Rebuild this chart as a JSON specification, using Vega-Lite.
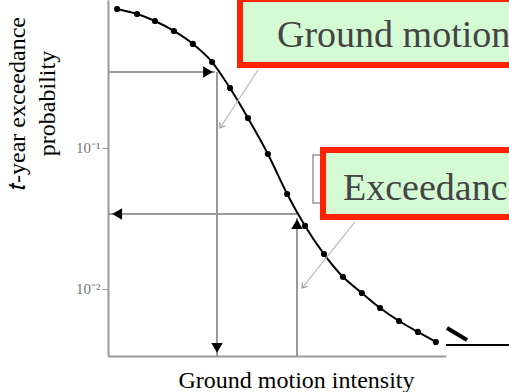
{
  "$schema": "https://vega.github.io/schema/vega-lite/v6.json",
  "width": 338,
  "height": 356,
  "autosize": {"type": "none"},
  "padding": {"left": 108, "top": 0, "right": 63, "bottom": 36},
  "background": "white",
  "config": {"view": {"stroke": null}, "font": "Liberation Serif"},
  "datasets": {
    "curve": [
      {"x": 0.27, "y": 0.968}, {"x": 0.86, "y": 0.892}, {"x": 1.39, "y": 0.796},
      {"x": 1.95, "y": 0.676}, {"x": 2.51, "y": 0.547}, {"x": 3.08, "y": 0.407},
      {"x": 3.61, "y": 0.266}, {"x": 4.14, "y": 0.163}, {"x": 4.73, "y": 0.0907},
      {"x": 5.30, "y": 0.0472}, {"x": 5.83, "y": 0.028}, {"x": 6.39, "y": 0.0177},
      {"x": 6.95, "y": 0.0122}, {"x": 7.51, "y": 0.00937}, {"x": 8.05, "y": 0.00733},
      {"x": 8.61, "y": 0.00593}, {"x": 9.17, "y": 0.00496}, {"x": 9.70, "y": 0.00421}
    ],
    "guides": [
      {"x": 0, "x2": 3.166, "y": 0.346, "y2": 0.346},
      {"x": 3.225, "x2": 3.225, "y": 0.346, "y2": 0.003348},
      {"x": 0, "x2": 5.592, "y": 0.03404, "y2": 0.03404},
      {"x": 5.592, "x2": 5.592, "y": 0.03188, "y2": 0.003348}
    ],
    "heads": [
      {"x": 2.96, "y": 0.346, "dir": "right"},
      {"x": 3.225, "y": 0.00382, "dir": "down"},
      {"x": 0.27, "y": 0.03404, "dir": "left"},
      {"x": 5.592, "y": 0.0289, "dir": "up"}
    ],
    "pointers": [
      {"x": 4.438, "x2": 3.314, "y": 0.3574, "y2": 0.1387},
      {"x": 7.308, "x2": 5.74, "y": 0.02987, "y2": 0.01016}
    ],
    "pointerTip1": [{"x": 3.314, "y": 0.1387}],
    "pointerTip2": [{"x": 5.74, "y": 0.01016}],
    "backBox": [{"x": 6.065, "x2": 6.6, "y": 0.0892, "y2": 0.0407}],
    "boxes": [
      {"x": 3.905, "x2": 15, "y": 1.139, "y2": 0.388},
      {"x": 6.361, "x2": 15, "y": 0.0968, "y2": 0.0324}
    ],
    "boxText": [
      {"x": 5.0, "y": 0.52, "label": "Ground motion"},
      {"x": 6.953, "y": 0.0428, "label": "Exceedance"}
    ],
    "edgeLine": [{"x": 10, "x2": 12, "y": 0.00401, "y2": 0.00401}],
    "edgeStroke": [{"x": 10.03, "x2": 10.62, "y": 0.00529, "y2": 0.004347}]
  },
  "encoding": {
    "x": {
      "field": "x",
      "type": "quantitative",
      "scale": {"domain": [0, 10], "nice": false, "zero": false},
      "axis": {
        "title": "Ground motion intensity",
        "titleFont": "Liberation Serif",
        "titleFontSize": 24,
        "titleFontWeight": "normal",
        "titleColor": "#000000",
        "titleX": 188,
        "titleY": 31,
        "titleAlign": "center",
        "titleBaseline": "alphabetic",
        "labels": false,
        "ticks": false,
        "grid": false,
        "domainColor": "#999999",
        "domainWidth": 2
      }
    },
    "y": {
      "field": "y",
      "type": "quantitative",
      "scale": {"type": "log", "domain": [0.003348, 1.121], "nice": false},
      "axis": {
        "title": ["𝑡-year exceedance", "probability"],
        "titleFont": "Liberation Serif",
        "titleFontSize": 24,
        "titleFontWeight": "normal",
        "titleColor": "#000000",
        "titleAngle": 270,
        "titleX": -84,
        "titleY": 103,
        "titleAlign": "center",
        "titleBaseline": "alphabetic",
        "titleLineHeight": 30,
        "values": [0.1, 0.01],
        "labelExpr": "datum.value > 0.05 ? '10⁻¹' : '10⁻²'",
        "labelFont": "Liberation Serif",
        "labelFontSize": 15,
        "labelColor": "#777777",
        "labelPadding": 2,
        "tickColor": "#999999",
        "tickSize": 6,
        "tickWidth": 1,
        "grid": false,
        "domainColor": "#999999",
        "domainWidth": 2
      }
    }
  },
  "layer": [
    {
      "data": {"name": "backBox"},
      "mark": {"type": "rect", "fill": "#ffffff", "stroke": "#999999", "strokeWidth": 1.5},
      "encoding": {"x2": {"field": "x2"}, "y2": {"field": "y2"}}
    },
    {
      "data": {"name": "guides"},
      "mark": {"type": "rule", "color": "#999999", "strokeWidth": 2},
      "encoding": {"x2": {"field": "x2"}, "y2": {"field": "y2"}}
    },
    {
      "data": {"name": "curve"},
      "mark": {"type": "line", "color": "#000000", "strokeWidth": 2, "interpolate": "monotone"},
      "encoding": {}
    },
    {
      "data": {"name": "curve"},
      "mark": {"type": "circle", "color": "#000000", "size": 38, "opacity": 1}
    },
    {
      "data": {"name": "heads"},
      "mark": {"type": "point", "filled": true, "color": "#000000", "size": 130, "opacity": 1},
      "encoding": {
        "shape": {
          "field": "dir",
          "type": "nominal",
          "scale": {"domain": ["right", "down", "left", "up"], "range": ["triangle-right", "triangle-down", "triangle-left", "triangle-up"]},
          "legend": null
        }
      }
    },
    {
      "data": {"name": "pointers"},
      "mark": {"type": "rule", "color": "#b8b8b8", "strokeWidth": 1.2},
      "encoding": {"x2": {"field": "x2"}, "y2": {"field": "y2"}}
    },
    {
      "data": {"name": "pointerTip1"},
      "mark": {"type": "point", "shape": "M-1,-0.7L0,0L-1,0.7", "filled": false, "stroke": "#999999", "strokeWidth": 1.2, "size": 90, "angle": 123, "opacity": 1}
    },
    {
      "data": {"name": "pointerTip2"},
      "mark": {"type": "point", "shape": "M-1,-0.7L0,0L-1,0.7", "filled": false, "stroke": "#999999", "strokeWidth": 1.2, "size": 90, "angle": 129, "opacity": 1}
    },
    {
      "data": {"name": "boxes"},
      "mark": {"type": "rect", "fill": "#d4fad4", "stroke": "#ff2200", "strokeWidth": 6},
      "encoding": {"x2": {"field": "x2"}, "y2": {"field": "y2"}}
    },
    {
      "data": {"name": "boxText"},
      "mark": {"type": "text", "font": "Liberation Serif", "fontSize": 38, "color": "#444444", "align": "left", "baseline": "alphabetic"},
      "encoding": {"text": {"field": "label"}}
    },
    {
      "data": {"name": "edgeLine"},
      "mark": {"type": "rule", "color": "#000000", "strokeWidth": 2},
      "encoding": {"x2": {"field": "x2"}, "y2": {"field": "y2"}}
    },
    {
      "data": {"name": "edgeStroke"},
      "mark": {"type": "rule", "color": "#000000", "strokeWidth": 4},
      "encoding": {"x2": {"field": "x2"}, "y2": {"field": "y2"}}
    }
  ]
}
